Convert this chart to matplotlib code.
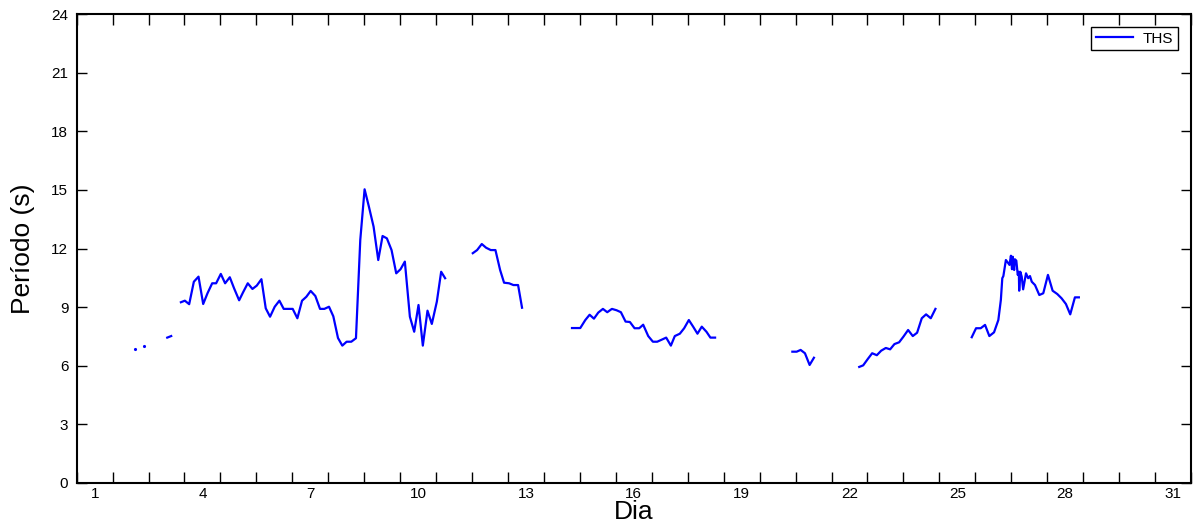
import numpy as np
import matplotlib
matplotlib.use('Agg')
import matplotlib.pyplot as plt
from matplotlib.ticker import MultipleLocator, FixedLocator

plt.rcParams['font.family'] = ['Liberation Sans', 'DejaVu Sans']

# Período THS por dia (cada lista = um trecho contínuo)
dia_1 = [2.12]
ths_1 = [6.84]
dia_2 = [2.38]
ths_2 = [7.03]
dia_3 = [3.02, 3.13]
ths_3 = [7.44, 7.52]

dia_4 = [3.40, 3.51, 3.63, 3.76, 3.89, 4.02, 4.14, 4.27, 4.38, 4.51, 4.63, 4.76, 4.88,
         5.02, 5.13, 5.26, 5.39, 5.51, 5.64, 5.76, 5.88, 6.01, 6.14, 6.26, 6.39, 6.51,
         6.64, 6.77, 6.89, 7.01, 7.14, 7.27, 7.39, 7.52, 7.64, 7.77, 7.89, 8.01, 8.14,
         8.27, 8.39, 8.51, 8.63, 8.76, 8.89, 9.01, 9.13, 9.26, 9.39, 9.51, 9.63, 9.77,
         9.89, 10.01, 10.13, 10.26, 10.38, 10.52, 10.64, 10.75]
ths_4 = [9.25, 9.33, 9.15, 10.30, 10.56, 9.16, 9.71, 10.22, 10.22, 10.70, 10.22, 10.53, 9.96,
         9.35, 9.76, 10.22, 9.93, 10.10, 10.43, 8.94, 8.51, 9.02, 9.33, 8.91, 8.91, 8.91,
         8.43, 9.33, 9.53, 9.83, 9.57, 8.91, 8.91, 9.02, 8.53, 7.42, 7.03, 7.23, 7.23,
         7.41, 12.44, 15.03, 14.14, 13.12, 11.41, 12.64, 12.52, 11.92, 10.73, 10.94, 11.33, 8.51,
         7.74, 9.11, 7.03, 8.82, 8.14, 9.28, 10.81, 10.48]

dia_5 = [11.52, 11.64, 11.77, 11.89, 12.02, 12.15, 12.28, 12.39, 12.53, 12.65, 12.78, 12.89]
ths_5 = [11.76, 11.92, 12.23, 12.04, 11.92, 11.92, 10.90, 10.25, 10.22, 10.13, 10.13, 8.97]

dia_6 = [14.28, 14.51, 14.65, 14.77, 14.89, 15.01, 15.14, 15.26, 15.39, 15.52, 15.64, 15.77,
         15.89, 16.02, 16.15, 16.26, 16.40, 16.53, 16.65, 16.77, 16.90, 17.03, 17.14, 17.28,
         17.40, 17.53, 17.65, 17.77, 17.89, 18.02, 18.13, 18.26]
ths_6 = [7.93, 7.93, 8.34, 8.61, 8.41, 8.72, 8.91, 8.74, 8.91, 8.84, 8.74, 8.26,
         8.24, 7.92, 7.92, 8.10, 7.52, 7.23, 7.23, 7.33, 7.44, 7.03, 7.52, 7.64,
         7.92, 8.34, 8.00, 7.64, 8.00, 7.74, 7.44, 7.44]

dia_7 = [20.41, 20.53, 20.64, 20.76, 20.89, 21.01]
ths_7 = [6.72, 6.72, 6.81, 6.64, 6.04, 6.41]

dia_8 = [22.27, 22.38, 22.51, 22.63, 22.76, 22.88, 23.01, 23.13, 23.25, 23.38, 23.50, 23.63,
         23.76, 23.88, 24.01, 24.13, 24.26, 24.39]
ths_8 = [5.94, 6.02, 6.35, 6.64, 6.54, 6.77, 6.91, 6.84, 7.11, 7.20, 7.49, 7.83,
         7.52, 7.69, 8.43, 8.63, 8.43, 8.91]

dia_9 = [25.40, 25.52, 25.65, 25.77, 25.89, 26.02, 26.14, 26.21, 26.25, 26.28, 26.35, 26.42,
         26.45, 26.49, 26.52, 26.54, 26.58, 26.60, 26.64, 26.68, 26.71, 26.72, 26.75, 26.79,
         26.83, 26.91, 26.97, 27.02, 27.07, 27.16, 27.28, 27.39, 27.52, 27.65, 27.78, 27.90,
         28.02, 28.14, 28.27, 28.38]
ths_9 = [7.46, 7.92, 7.92, 8.09, 7.52, 7.71, 8.34, 9.37, 10.48, 10.59, 11.41, 11.24,
         11.16, 11.63, 10.94, 11.58, 10.90, 11.45, 11.38, 10.65, 10.81, 9.84, 10.81, 10.56,
         9.91, 10.73, 10.48, 10.59, 10.30, 10.13, 9.62, 9.71, 10.65, 9.84, 9.67, 9.45,
         9.16, 8.63, 9.50, 9.50]

dia_labels = [1, 4, 7, 10, 13, 16, 19, 22, 25, 28, 31]

fig = plt.figure(figsize=(11.94, 5.31), dpi=100)
ax = fig.add_axes([0.0642, 0.0904, 0.9333, 0.8832])

cor = '#0000ff'
trechos = [(dia_3, ths_3), (dia_4, ths_4), (dia_5, ths_5), (dia_6, ths_6),
           (dia_7, ths_7), (dia_8, ths_8), (dia_9, ths_9)]
for i, (d, t) in enumerate(trechos):
    ax.plot(d, t, color=cor, lw=1.6, label='THS' if i == 1 else None)
ax.plot(dia_1, ths_1, '.', color=cor, ms=2.5)
ax.plot(dia_2, ths_2, '.', color=cor, ms=2.5)

ax.set_xlim(0.5, 31.5)
ax.set_ylim(0, 24)
ax.xaxis.set_major_locator(FixedLocator(dia_labels))
ax.xaxis.set_minor_locator(MultipleLocator(1, offset=0.5))
ax.yaxis.set_major_locator(MultipleLocator(3))
ax.tick_params(axis='x', which='major', length=0, labelsize=11, pad=3)
ax.tick_params(axis='x', which='minor', direction='in', length=8, width=1, top=True, bottom=True)
ax.tick_params(axis='y', which='major', direction='in', length=7.5, width=1,
               left=True, right=True, labelsize=11, pad=6)
for s in ax.spines.values():
    s.set_linewidth(1.5)

ax.set_xlabel('Dia', fontsize=19, labelpad=-1)
ax.set_ylabel('Período (s)', fontsize=19, labelpad=12)

leg = ax.legend(loc='upper right', fontsize=11, fancybox=False, framealpha=1,
                edgecolor='black', handlelength=2.4, borderpad=0.3,
                handletextpad=0.65, borderaxespad=0,
                bbox_to_anchor=(0.988, 0.972))
leg.get_frame().set_linewidth(1.0)

fig.savefig('out.png', dpi=100)
